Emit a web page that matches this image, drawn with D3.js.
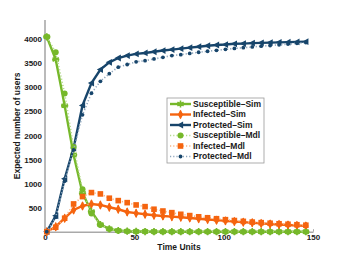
<!DOCTYPE html>
<html>
<head>
<meta charset="utf-8">
<script src="https://cdn.jsdelivr.net/npm/d3@7/dist/d3.min.js"></script>
<style>
  body { margin: 0; background: #fff; }
  text { font-family: "Liberation Sans", Arial, sans-serif; font-weight: bold; fill: #1a1a1a; }
</style>
</head>
<body>
<div id="chart"></div>
<script>
// time points (every 5 units)
var times = [1, 6, 11, 16, 21, 26, 31, 36, 41, 46, 51, 56, 61, 66, 71,
             76, 81, 86, 91, 96, 101, 106, 111, 116, 121, 126, 131, 136, 141, 146];

var susceptibleSim = [4050, 3580, 2620, 1600, 800, 420, 150, 60, 25, 10, 5, 3, 2, 1, 1,
                      0, 0, 0, 0, 0, 0, 0, 0, 0, 0, 0, 0, 0, 0, 0];
var infectedSim = [0, 104, 280, 452, 535, 577, 556, 508, 467, 410, 385, 362, 342, 327, 313,
                   300, 285, 270, 255, 240, 225, 210, 198, 185, 172, 160, 150, 140, 130, 120];
var protectedSim = [0, 330, 1100, 1740, 2625, 3090, 3370, 3520, 3610, 3660, 3695, 3715, 3740, 3765, 3785,
                    3805, 3825, 3845, 3865, 3880, 3890, 3905, 3910, 3920, 3925, 3930, 3935, 3940, 3945, 3950];

var susceptibleMdl = [4050, 3730, 2870, 1760, 880, 380, 140, 55, 20, 8, 3, 2, 1, 1, 0,
                      0, 0, 0, 0, 0, 0, 0, 0, 0, 0, 0, 0, 0, 0, 0];
var infectedMdl = [0, 92, 280, 577, 730, 813, 785, 696, 646, 604, 556, 521, 467, 430, 396,
                   362, 335, 310, 290, 270, 250, 232, 215, 200, 188, 176, 165, 155, 145, 135];
var protectedMdl = [0, 300, 1050, 1700, 2430, 2880, 3125, 3285, 3420, 3475, 3530, 3555, 3590, 3625, 3660,
                    3680, 3705, 3730, 3750, 3770, 3790, 3810, 3825, 3840, 3855, 3870, 3885, 3900, 3915, 3930];

var xTicks = [0, 50, 100, 150];
var yTicks = [500, 1000, 1500, 2000, 2500, 3000, 3500, 4000];

var green = "#76b82a", orange = "#f5640f", navy = "#17456b";

var series = [
  {name: "Susceptible\u2013Sim", values: susceptibleSim, color: green, light: green, dash: null, marker: "star"},
  {name: "Infected\u2013Sim", values: infectedSim, color: orange, light: orange, dash: null, marker: "diamond"},
  {name: "Protected\u2013Sim", values: protectedSim, color: navy, light: navy, dash: null, marker: "triangle"},
  {name: "Susceptible\u2013Mdl", values: susceptibleMdl, color: green, light: "#b5d98e", dash: "1.2,2", marker: "circle"},
  {name: "Infected\u2013Mdl", values: infectedMdl, color: orange, light: "#f8b486", dash: "1.2,2", marker: "square"},
  {name: "Protected\u2013Mdl", values: protectedMdl, color: navy, light: "#8fa6bd", dash: "1.2,2", marker: "dot"}
];

var width = 346, height = 260;
var svg = d3.select("#chart").append("svg")
  .attr("width", width)
  .attr("height", height);

var x_scale = d3.scaleLinear().domain([0, 150]).range([45, 313]);
var y_scale = d3.scaleLinear().domain([0, 4400]).range([231.7, 20]);

// axes
var xAxis = svg.append("g")
  .attr("transform", "translate(0," + y_scale(0) + ")")
  .call(d3.axisBottom(x_scale).tickValues(xTicks).tickFormat(d3.format("d"))
    .tickSizeInner(-2.5).tickSizeOuter(0).tickPadding(4));
var yAxis = svg.append("g")
  .attr("transform", "translate(" + x_scale(0) + ",0)")
  .call(d3.axisLeft(y_scale).tickValues(yTicks).tickFormat(d3.format("d"))
    .tickSize(0).tickPadding(3));

[xAxis, yAxis].forEach(function(a) {
  a.select(".domain").attr("stroke", "#a9a9a9").attr("stroke-width", 1.6);
  a.selectAll(".tick line").attr("stroke", "#a9a9a9");
  a.selectAll(".tick text").style("font-size", "8px").attr("fill", "#1a1a1a");
});
xAxis.selectAll(".tick text").attr("dy", "0.6em");
// hide the 0 tick mark
xAxis.selectAll(".tick line").filter(function(d) { return d === 0; }).remove();
// y axis extends to the top of the plot
yAxis.select(".domain").attr("d", "M0," + y_scale(0) + "V20");

svg.append("text")
  .attr("x", 179)
  .attr("y", 250)
  .attr("text-anchor", "middle")
  .style("font-size", "8.5px")
  .text("Time Units");

svg.append("text")
  .attr("transform", "translate(19.5," + (y_scale(0) + 20) / 2 + ") rotate(-90)")
  .attr("text-anchor", "middle")
  .style("font-size", "8.5px")
  .text("Expected number of users");

function drawMarker(g, type, color, cx, cy) {
  if (type === "star") {
    var r = 3.6;
    var p = "";
    for (var k = 0; k < 3; k++) {
      var a = Math.PI / 2 + k * Math.PI / 3;
      p += "M" + (cx - r * Math.cos(a)) + "," + (cy - r * Math.sin(a)) +
           "L" + (cx + r * Math.cos(a)) + "," + (cy + r * Math.sin(a));
    }
    p += "M" + (cx - r) + "," + cy + "L" + (cx + r) + "," + cy;
    g.append("path").attr("d", p).attr("stroke", color).attr("stroke-width", 1.6).attr("fill", "none");
  } else if (type === "diamond") {
    g.append("path")
      .attr("d", d3.symbol().type(d3.symbolDiamond).size(26)())
      .attr("transform", "translate(" + cx + "," + cy + ")")
      .attr("fill", color);
    g.append("path").attr("d", "M" + cx + "," + (cy - 4) + "V" + (cy + 4))
      .attr("stroke", color).attr("stroke-width", 1.4);
  } else if (type === "triangle") {
    g.append("path")
      .attr("d", "M" + (cx - 3.6) + "," + cy + "L" + (cx + 2.6) + "," + (cy - 3.4) + "L" + (cx + 2.6) + "," + (cy + 3.4) + "Z")
      .attr("fill", color);
  } else if (type === "circle") {
    g.append("circle").attr("cx", cx).attr("cy", cy).attr("r", 3).attr("fill", color);
  } else if (type === "square") {
    g.append("rect").attr("x", cx - 2.8).attr("y", cy - 2.8).attr("width", 5.6).attr("height", 5.6).attr("fill", color);
  } else if (type === "dot") {
    g.append("circle").attr("cx", cx).attr("cy", cy).attr("r", 1.9).attr("fill", color);
  }
}

var line_generator = d3.line()
  .x(function(d) { return x_scale(d.t); })
  .y(function(d) { return y_scale(d.v); });

series.forEach(function(s) {
  var pts = times.map(function(t, i) { return {t: t, v: s.values[i]}; });
  var g = svg.append("g").attr("class", "series");
  g.append("path")
    .attr("d", line_generator(pts))
    .attr("fill", "none")
    .attr("stroke", s.light)
    .attr("stroke-width", s.dash ? 1.6 : 2.4)
    .attr("stroke-dasharray", s.dash);
  pts.forEach(function(p) {
    drawMarker(g, s.marker, s.color, x_scale(p.t), y_scale(p.v));
  });
});

// legend
var legend = svg.append("g");
legend.append("rect")
  .attr("x", 167).attr("y", 98)
  .attr("width", 97).attr("height", 65)
  .attr("fill", "#fff")
  .attr("stroke", "#9a9a9a")
  .attr("stroke-width", 0.8);

series.forEach(function(s, i) {
  var ly = 104 + i * 10.5;
  legend.append("line")
    .attr("x1", 170).attr("x2", 191)
    .attr("y1", ly).attr("y2", ly)
    .attr("stroke", s.light)
    .attr("stroke-width", s.dash ? 1.6 : 2.4)
    .attr("stroke-dasharray", s.dash);
  drawMarker(legend, s.marker, s.color, 180.5, ly);
  legend.append("text")
    .attr("x", 193)
    .attr("y", ly)
    .attr("dy", "0.35em")
    .style("font-size", "8.5px")
    .text(s.name);
});
</script>
</body>
</html>
